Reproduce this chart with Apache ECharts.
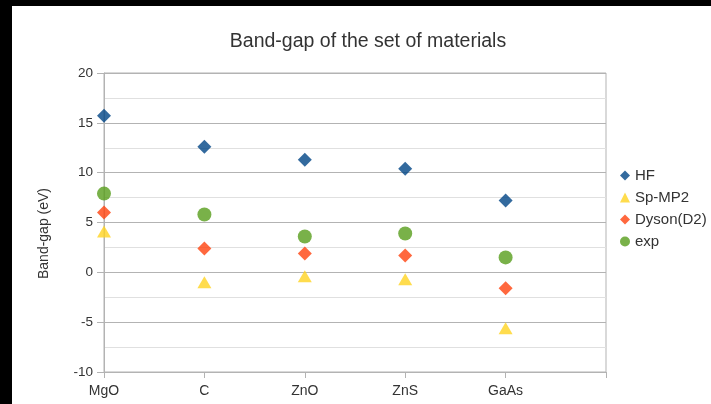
<!DOCTYPE html>
<html>
<head>
<meta charset="utf-8">
<style>
  html, body { margin: 0; padding: 0; background: #fff; }
  #chart { width: 711px; height: 404px; }
</style>
<script src="https://cdn.jsdelivr.net/npm/echarts@6/dist/echarts.min.js"></script>
</head>
<body>
<div id="chart"></div>
<script>
// 材料（最后一个空位用来留出右侧的刻度）
const categories = ['MgO', 'C', 'ZnO', 'ZnS', 'GaAs', '']
const hf = [15.7, 12.6, 11.3, 10.4, 7.2]
const spMp2 = [4.1, -1.0, -0.4, -0.7, -5.6]
const dyson = [6.0, 2.4, 1.9, 1.7, -1.6]
const expData = [7.9, 5.8, 3.6, 3.9, 1.5]

const font = '"Liberation Sans", Arial, sans-serif'
const textColor = '#333'

const chart = echarts.init(document.getElementById('chart'))

chart.setOption({
    animation: false,
    backgroundColor: '#fff',
    title: {
        text: 'Band-gap of the set of materials',
        left: 363,
        top: 27,
        textAlign: 'center',
        textStyle: { fontFamily: font, fontSize: 19.5, fontWeight: 'normal', color: textColor }
    },
    // 图例
    legend: {
        orient: 'vertical',
        left: 615,
        top: 163,
        itemWidth: 10,
        itemHeight: 10,
        itemGap: 7,
        textStyle: { fontFamily: font, fontSize: 15, color: textColor },
        data: [
            { name: 'HF', icon: 'diamond' },
            { name: 'Sp-MP2', icon: 'triangle' },
            { name: 'Dyson(D2)', icon: 'diamond' },
            { name: 'exp', icon: 'circle' }
        ]
    },
    grid: {
        left: 104,
        right: 105,
        top: 73,
        bottom: 32,
        show: true,
        borderColor: '#b3b3b3',
        borderWidth: 1
    },
    xAxis: {
        type: 'category',
        boundaryGap: false,
        data: categories,
        axisLine: { onZero: false, lineStyle: { color: '#b3b3b3' } },
        axisTick: { length: 6, lineStyle: { color: '#b3b3b3' } },
        axisLabel: { margin: 12, fontFamily: font, fontSize: 14, color: textColor },
        splitLine: { show: false }
    },
    yAxis: {
        type: 'value',
        min: -10,
        max: 20,
        interval: 5,
        name: 'Band-gap (eV)',
        nameLocation: 'middle',
        nameRotate: 90,
        nameGap: 53,
        nameTextStyle: { fontFamily: font, fontSize: 14, color: textColor, padding: [0, 22, 0, 0] },
        axisLine: { show: true, lineStyle: { color: '#b3b3b3' } },
        axisTick: { show: true, length: 7, lineStyle: { color: '#b3b3b3' } },
        axisLabel: { margin: 11, fontFamily: font, fontSize: 13.5, color: textColor },
        splitLine: { lineStyle: { color: '#b3b3b3' } },
        minorTick: { show: false, splitNumber: 2 },
        minorSplitLine: { show: true, lineStyle: { color: '#e0e0e0' } }
    },
    series: [
        { name: 'HF', type: 'scatter', symbol: 'diamond', symbolSize: 14, itemStyle: { color: '#004586' }, data: hf },
        { name: 'Sp-MP2', type: 'scatter', symbol: 'triangle', symbolSize: [14, 12], itemStyle: { color: '#ffd320' }, data: spMp2 },
        { name: 'Dyson(D2)', type: 'scatter', symbol: 'diamond', symbolSize: 14, itemStyle: { color: '#ff420e' }, data: dyson },
        { name: 'exp', type: 'scatter', symbol: 'circle', symbolSize: 14, itemStyle: { color: '#579d1c' }, data: expData }
    ],
    // 左侧和顶部的黑边
    graphic: [
        { type: 'rect', left: 0, top: 0, shape: { width: 711, height: 6 }, style: { fill: '#000' } },
        { type: 'rect', left: 0, top: 0, shape: { width: 12, height: 404 }, style: { fill: '#000' } }
    ]
})
</script>
</body>
</html>
